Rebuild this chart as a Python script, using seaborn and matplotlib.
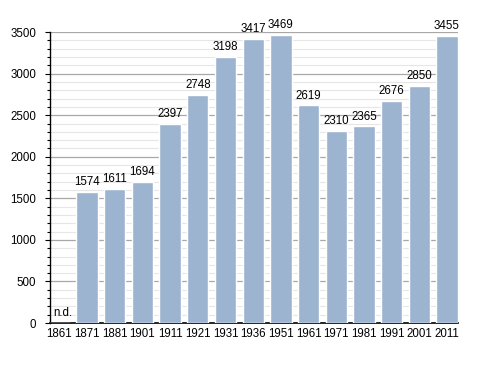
import matplotlib
matplotlib.use("Agg")
import matplotlib.pyplot as plt
import seaborn as sns
import pandas as pd
from matplotlib.ticker import MultipleLocator

years = ["1861", "1871", "1881", "1901", "1911", "1921", "1931", "1936", "1951",
         "1961", "1971", "1981", "1991", "2001", "2011"]
population = [0, 1574, 1611, 1694, 2397, 2748, 3198, 3417, 3469,
              2619, 2310, 2365, 2676, 2850, 3455]
labels = ["n.d.", "1574", "1611", "1694", "2397", "2748", "3198", "3417", "3469",
          "2619", "2310", "2365", "2676", "2850", "3455"]

df = pd.DataFrame({"year": years, "pop": population})

sns.set_style("white")
plt.rcParams['font.family'] = ['Liberation Sans', 'DejaVu Sans']
plt.rcParams['text.color'] = 'black'
plt.rcParams['xtick.color'] = 'black'
plt.rcParams['ytick.color'] = 'black'

FS = 8.3

fig = plt.figure(figsize=(4.88, 3.73), dpi=100)
ax = fig.add_axes([0.1025, 0.134, 0.836, 0.78])

sns.barplot(data=df, x="year", y="pop", color="#9cb4d0", saturation=1,
            width=0.77, ax=ax, zorder=3)

ax.set_ylim(0, 3500)
ax.set_xlim(-0.34, 14.4)
ax.yaxis.set_major_locator(MultipleLocator(500))
ax.yaxis.set_minor_locator(MultipleLocator(100))
ax.grid(which="major", axis="y", color="#a8a8a8", linewidth=0.9, zorder=0)
ax.grid(which="minor", axis="y", color="#e6e6e6", linewidth=0.8, zorder=0)
ax.set_axisbelow(True)

for s in ["top", "right"]:
    ax.spines[s].set_visible(False)
ax.spines["left"].set_color("black")
ax.spines["bottom"].set_color("black")
ax.spines["left"].set_linewidth(1.0)
ax.spines["bottom"].set_linewidth(1.2)

ax.tick_params(axis="y", which="major", direction="out", length=3.6, width=0.8,
               left=True, labelsize=FS, color="black", labelcolor="black", pad=6.3)
ax.tick_params(axis="y", which="minor", direction="out", length=2, width=0.8,
               left=True, color="black")
ax.tick_params(axis="x", which="both", length=0, labelsize=FS, labelcolor="black", pad=3.5)
ax.set_xlabel("")
ax.set_ylabel("")

for i, (v, lab) in enumerate(zip(population, labels)):
    if lab == "n.d.":
        ax.text(i - 0.24, 50, lab, ha="left", va="bottom", fontsize=FS, color="black")
    else:
        ax.text(i, v + 45, lab, ha="center", va="bottom", fontsize=FS, color="black")

fig.savefig("out.png", dpi=100)
